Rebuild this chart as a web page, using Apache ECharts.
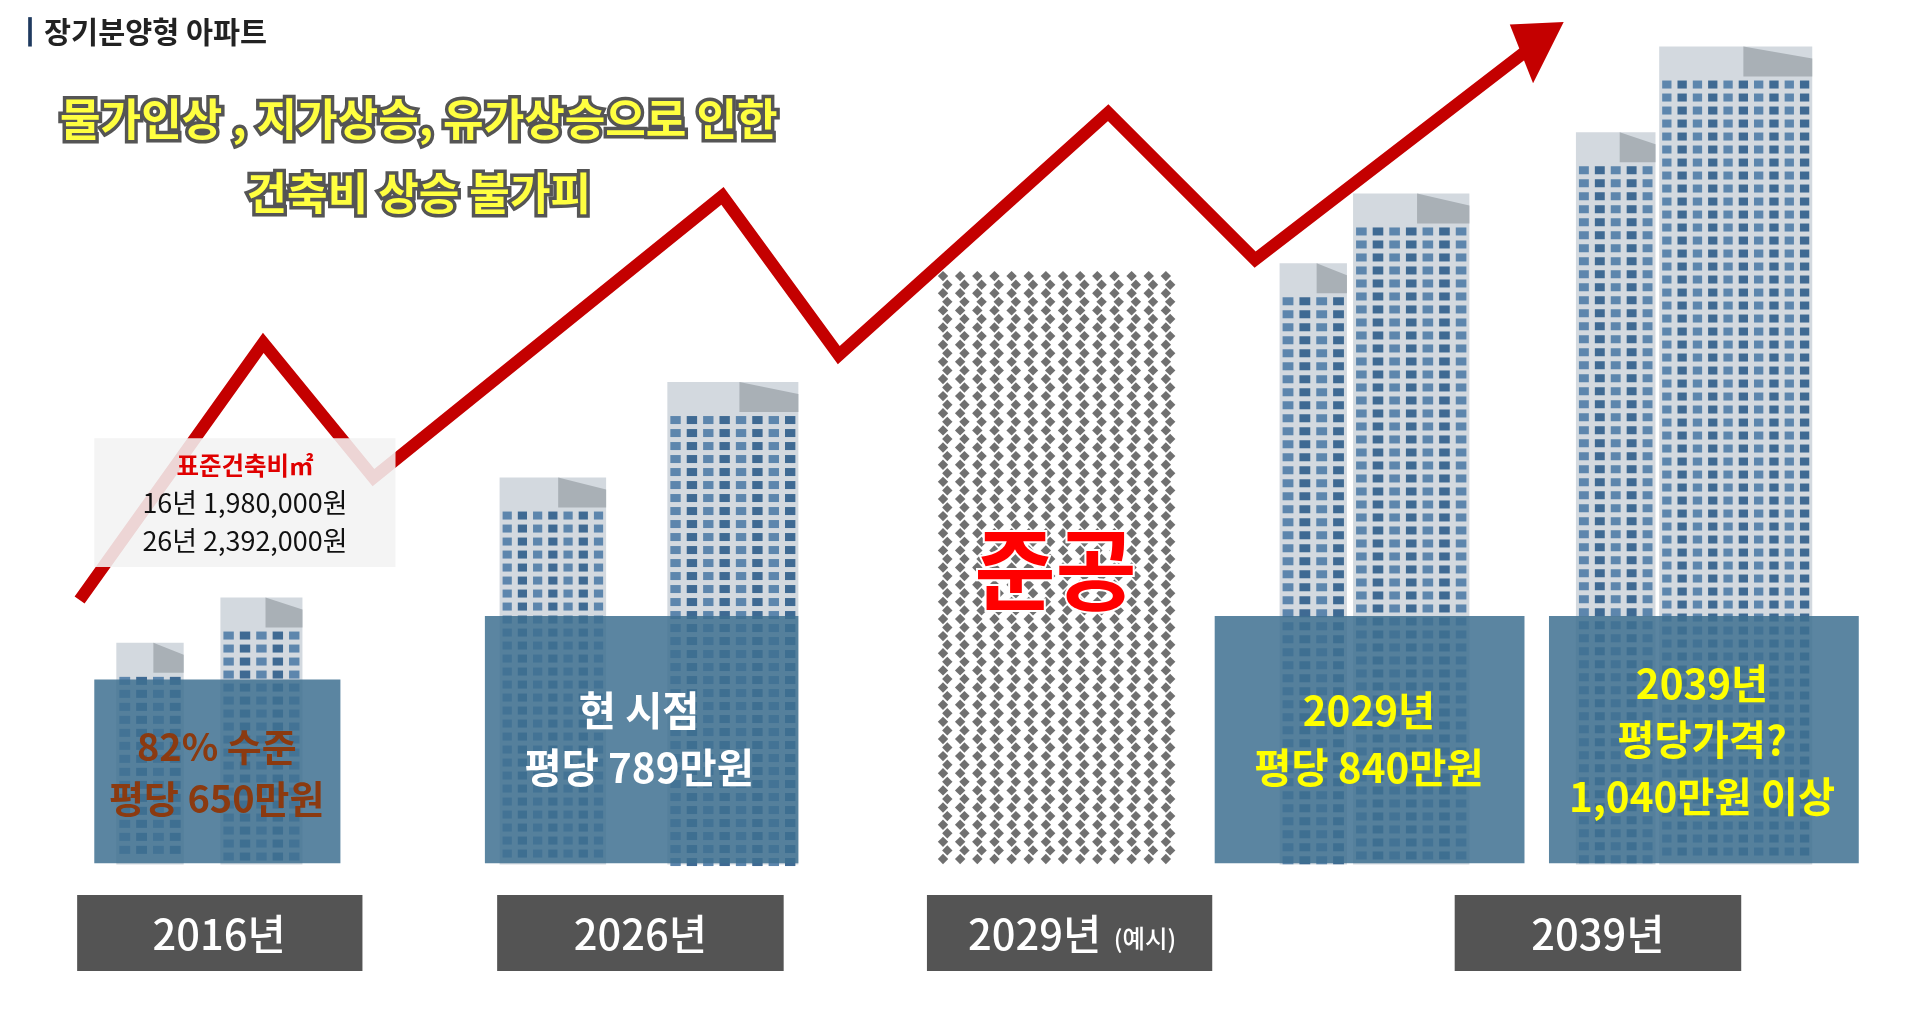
<!DOCTYPE html><html><head><meta charset="utf-8">
<script src="https://cdn.jsdelivr.net/npm/echarts@6/dist/echarts.min.js"></script>
<style>html,body{margin:0;background:#fff}#c{width:1920px;height:1012px}</style></head><body><div id="c"></div>
<script>
const trendPoints=[[65,490],[215,280],[305,390],[590,160],[685,290],[905,92],[1025,212],[1255,35]];
const years=['2016년','2026년','2029년','2039년'];
const panels=[[77,278,555,705],[396,652,503,705],[992,1245,503,705],[1265,1518,503,705]];
const buildings=[[95,150,525],[180,247,488],[408,495,390],[545,652,312],[1045,1100,215],[1105,1200,158],[1287,1352,108],[1355,1480,38]];
const S=1920/1568, F="'Noto Sans CJK KR'";
const chart=echarts.init(document.getElementById('c'));
function bld(p,api){const x0=api.value(0),x1=api.value(1),t=api.value(2);
 const a=api.coord([x0,t]),b=api.coord([x1,706]);const w=b[0]-a[0],h=b[1]-a[1];
 const ch=[{type:'rect',shape:{x:a[0],y:a[1],width:w,height:h},style:{fill:'#d3d9df'}},
 {type:'polygon',shape:{points:[[a[0]+w*0.55,a[1]],[a[0]+w,a[1]+12],[a[0]+w,a[1]+30],[a[0]+w*0.55,a[1]+30]]},style:{fill:'#a9b0b6'}}];
 const cols=Math.max(3,Math.round(w/16));const cw=w/cols;
 for(let y=a[1]+34;y<b[1]-6;y+=13){for(let c=0;c<cols;c++){ch.push({type:'rect',shape:{x:a[0]+c*cw+3,y:y,width:cw-6,height:8},style:{fill:c%2?'#3f6a93':'#5d86ad'}});}}
 return {type:'group',children:ch};}
function checker(p,api){const a=api.coord([765,222]),b=api.coord([962,706]);const ch=[];const st=14*S;
 ch.push({type:'rect',shape:{x:a[0],y:a[1],width:b[0]-a[0],height:b[1]-a[1]},style:{fill:'#fff'}});
 for(let y=a[1]+st/4,r=0;y<b[1]-2;y+=st/2,r++){for(let x=a[0]+(r%2?st/2:st/4)+2;x<b[0]-2;x+=st){
  const d=st/3.3;ch.push({type:'polygon',shape:{points:[[x,y-d],[x+d,y],[x,y+d],[x-d,y]]},style:{fill:'#707070'}});}}
 return {type:'group',children:ch};}
function panel(p,api){const a=api.coord([api.value(0),api.value(2)]),b=api.coord([api.value(1),api.value(3)]);
 return {type:'rect',shape:{x:a[0],y:a[1],width:b[0]-a[0],height:b[1]-a[1]},style:{fill:'rgba(62,112,145,0.85)'}};}
const yb=[[63,296],[406,640],[757,990],[1188,1422]];
function ybox(p,api){const i=p.dataIndex;const a=api.coord([yb[i][0],731]),b=api.coord([yb[i][1],793]);
 return {type:'rect',shape:{x:a[0],y:a[1],width:b[0]-a[0],height:b[1]-a[1]},style:{fill:'#545454'}};}
const T=(x,y,text,st)=>({type:'text',x:x*S,y:y*S,style:Object.assign({text,font:`bold ${st.fs*S}px ${F}`,textAlign:'center',textVerticalAlign:'middle'},st.s),z:100});
const yellow={fill:'#ffff40',stroke:'#555',lineWidth:7};
const yf=`500 ${34*S}px ${F}`;
chart.setOption({animation:false,
 grid:{left:0,right:0,top:0,bottom:0},
 xAxis:{type:'value',min:0,max:1568,show:false},
 yAxis:{type:'value',min:0,max:1012/S,inverse:true,show:false},
 series:[
  {type:'custom',renderItem:bld,data:buildings,z:1},
  {type:'custom',renderItem:checker,data:[[0]],z:1},
  {type:'line',data:trendPoints,symbol:'none',lineStyle:{color:'#c40000',width:10*S,join:'miter'},z:2},
  {type:'custom',renderItem:panel,data:panels,z:3},
  {type:'custom',renderItem:ybox,data:years.map((y,i)=>[i]),z:3}],
 graphic:[
  {type:'polygon',shape:{points:[[1233*S,20*S],[1277*S,18*S],[1252*S,68*S]]},style:{fill:'#c40000'},z:5},
  {type:'rect',shape:{x:23*S,y:14*S,width:3*S,height:24*S},style:{fill:'#1f3a5f'}},
  {type:'text',x:36*S,y:26*S,style:{text:'장기분양형 아파트',font:`bold ${24*S}px ${F}`,fill:'#222',textVerticalAlign:'middle'}},
  T(342,97,'물가인상 , 지가상승, 유가상승으로 인한',{fs:36,s:yellow}),
  T(342,158,'건축비 상승 불가피',{fs:36,s:yellow}),
  {type:'rect',shape:{x:77*S,y:358*S,width:246*S,height:105*S},style:{fill:'rgba(242,242,242,0.88)'},z:10},
  T(200,380,'표준건축비㎡',{fs:20,s:{fill:'#e00000'}}),
  T(200,411,'16년 1,980,000원',{fs:22,s:{fill:'#111',font:`${22*S}px ${F}`}}),
  T(200,442,'26년 2,392,000원',{fs:22,s:{fill:'#111',font:`${22*S}px ${F}`}}),
  T(177,610,'82% 수준',{fs:31,s:{fill:'#8b3a10'}}),
  T(177,652,'평당 650만원',{fs:31,s:{fill:'#8b3a10'}}),
  T(522,580,'현 시점',{fs:33,s:{fill:'#fff'}}),
  T(522,627,'평당 789만원',{fs:33,s:{fill:'#fff'}}),
  T(862,465,'준공',{fs:72,s:{fill:'#ff0000',stroke:'#fff',lineWidth:4}}),
  T(1118,580,'2029년',{fs:33,s:{fill:'#ffff00'}}),
  T(1118,627,'평당 840만원',{fs:33,s:{fill:'#ffff00'}}),
  T(1390,558,'2039년',{fs:33,s:{fill:'#ffff00'}}),
  T(1390,604,'평당가격?',{fs:33,s:{fill:'#ffff00'}}),
  T(1390,651,'1,040만원 이상',{fs:33,s:{fill:'#ffff00'}}),
  T(179,763,years[0],{fs:34,s:{fill:'#fff',font:yf}}),
  T(523,763,years[1],{fs:34,s:{fill:'#fff',font:yf}}),
  T(845,763,years[2],{fs:34,s:{fill:'#fff',font:yf}}),
  T(935,767,'(예시)',{fs:20,s:{fill:'#fff',font:`500 ${20*S}px ${F}`}}),
  T(1305,763,years[3],{fs:34,s:{fill:'#fff',font:yf}})
 ]});
</script></body></html>
